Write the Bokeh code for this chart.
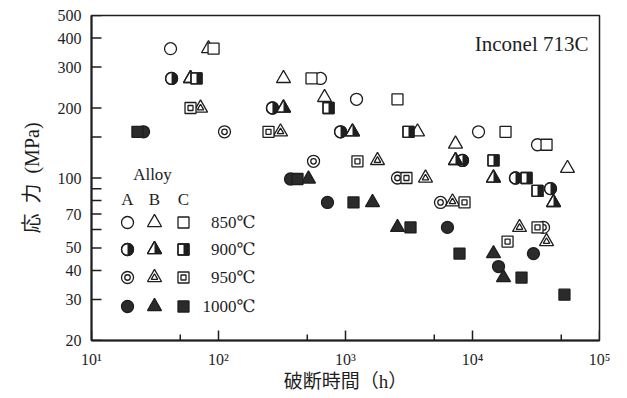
import math
from bokeh.plotting import figure
from bokeh.models import FixedTicker, CustomJSTickFormatter, Label
from bokeh.embed import file_html
from bokeh.resources import INLINE

# ---- data: rupture time (h) and stress (MPa) ----
# Alloy A (circles)
a850_t = [41.9, 635, 1221, 11150, 32500]
a850_s = [360, 268, 218, 158, 139]
a900_t = [42.7, 266, 914, 8340, 21800, 41130]
a900_s = [268, 200, 158, 119, 100, 90]
a950_t = [111.5, 560, 2566, 5600, 36230]
a950_s = [158, 118, 100, 78.5, 61.3]
a1000_t = [25.7, 369, 721, 6350, 30200, 16030]
a1000_s = [158, 99, 78.5, 61.3, 47.3, 41.6]
# Alloy B (triangles)
b850_t = [83.4, 325, 684, 3690, 7350, 55980]
b850_s = [360, 268, 222, 158, 140, 110]
b900_t = [60.2, 325, 1135, 7350, 14630, 43450]
b900_s = [268, 200, 158, 119, 100, 78.5]
b950_t = [72.2, 307.8, 1786, 4265, 6960, 23450, 38280]
b950_s = [200, 158, 119, 100, 79, 61.3, 53.3]
b1000_t = [511, 1632, 2566, 14630, 17540]
b1000_s = [99, 78.5, 61.3, 47.3, 37.3]
# Alloy C (squares)
c850_t = [91.4, 540, 2566, 18200, 38280]
c850_s = [360, 268, 218, 158, 139]
c900_t = [67.1, 735, 3133, 14630, 26620, 32500]
c900_s = [268, 200, 158, 119, 100, 88]
c950_t = [60.2, 247.6, 1242, 3020, 8650, 32500, 18880]
c950_s = [200, 158, 118, 100, 78.5, 61.3, 53.3]
c1000_t = [23.0, 419, 1156, 3250, 7900, 24320, 52970]
c1000_s = [158, 99, 78.5, 61.3, 47.3, 37.3, 31.5]

alloys = ["A", "B", "C"]
temps = ["850℃", "900℃", "950℃", "1000℃"]
x_ticks = [10, 100, 1000, 10000, 100000]
x_minor = [50, 500, 5000, 50000]
y_ticks = [20, 30, 40, 50, 70, 100, 200, 300, 400, 500]
y_minor = [60, 80, 90, 150]
x_title = "破断時間（h）"
y_title = "応\u2002力\u2002(MPa)"
plot_title = "Inconel 713C"

# ---- layout ----
W, H = 625, 396
BL, BT = 91, 15
FW, FH = 508, 325
BR, BB = W - BL - FW, H - BT - FH
XMIN, XMAX, YMIN, YMAX = 10, 100000, 20, 500
PXX = FW / math.log10(XMAX / XMIN)
PXY = FH / math.log10(YMAX / YMIN)

INK = "#1e1e1e"
LW = 1.3
SERIF = "'Liberation Serif', 'DejaVu Serif'"
CJK = "'Liberation Serif', 'Noto Sans CJK JP'"

p = figure(width=W, height=H, x_axis_type="log", y_axis_type="log",
           x_range=(XMIN, XMAX), y_range=(YMIN, YMAX),
           output_backend="svg", toolbar_location=None,
           min_border_left=BL, min_border_right=BR,
           min_border_top=BT, min_border_bottom=BB)
p.background_fill_color = "white"
p.border_fill_color = "white"
p.grid.visible = False
p.outline_line_color = INK
p.outline_line_width = 1.5


def fx(px):
    return XMIN * 10 ** (px / PXX)


def fy(py):
    return YMAX * 10 ** (-py / PXY)


def sx(t, dx):
    return t * 10 ** (dx / PXX)


def sy(s, dy):
    return s * 10 ** (dy / PXY)


SIZES = {"circle": 12, "triangle": 14, "square": 11}


def open_mark(marker, t, s, fill="white"):
    p.scatter(x=t, y=s, marker=marker, size=SIZES[marker], fill_color=fill,
              line_color=INK, line_width=LW)


def half_mark(marker, t, s):
    size = SIZES[marker]
    open_mark(marker, t, s)
    if marker == "circle":
        p.wedge(x=t, y=s, radius=size / 2, radius_units="screen",
                start_angle=-math.pi / 2, end_angle=math.pi / 2,
                fill_color=INK, line_color=None)
    else:
        r = size / 2
        if marker == "square":
            xs = [[ti, sx(ti, r), sx(ti, r), ti] for ti in t]
            ys = [[sy(si, -r), sy(si, -r), sy(si, r), sy(si, r)] for si in s]
        else:
            a = r * math.sqrt(3) / 3
            xs = [[ti, sx(ti, r), ti] for ti in t]
            ys = [[sy(si, -a), sy(si, -a), sy(si, 2 * a)] for si in s]
        p.patches(xs=xs, ys=ys, fill_color=INK, line_color=None)
    p.scatter(x=t, y=s, marker=marker, size=size, fill_color=None,
              line_color=INK, line_width=LW)


def double_mark(marker, t, s):
    open_mark(marker, t, s)
    inner = {"circle": 5.5, "triangle": 6.5, "square": 5}[marker]
    p.scatter(x=t, y=s, marker=marker, size=inner, fill_color=None,
              line_color=INK, line_width=LW)


def filled_mark(marker, t, s):
    open_mark(marker, t, s, fill="#2b2b2b")


styles = [open_mark, half_mark, double_mark, filled_mark]
markers = ["circle", "triangle", "square"]
series = [
    [(a850_t, a850_s), (b850_t, b850_s), (c850_t, c850_s)],
    [(a900_t, a900_s), (b900_t, b900_s), (c900_t, c900_s)],
    [(a950_t, a950_s), (b950_t, b950_s), (c950_t, c950_s)],
    [(a1000_t, a1000_s), (b1000_t, b1000_s), (c1000_t, c1000_s)],
]
for ti, row in enumerate(series):
    for ai, (t, s) in enumerate(row):
        styles[ti](markers[ai], t, s)


# ---- inward ticks drawn from the tick lists ----
def vticks(vals, length):
    p.segment(x0=vals, y0=[YMIN] * len(vals), x1=vals,
              y1=[sy(YMIN, length)] * len(vals), line_color=INK, line_width=1.5)


def hticks(vals, length):
    p.segment(x0=[XMIN] * len(vals), y0=vals, x1=[sx(XMIN, length)] * len(vals),
              y1=vals, line_color=INK, line_width=1.5)


vticks(x_ticks, 10)
vticks(x_minor, 6)
hticks(y_ticks, 10)
hticks(y_minor, 10)

# ---- legend block (frame pixel offsets) ----
col_px = [36, 63, 92]
row_py = [207, 234, 262, 291]
p.add_layout(Label(x=fx(61), y=fy(159), text="Alloy", text_font=SERIF,
                   text_font_size="17px", text_align="center",
                   text_baseline="middle", text_color=INK))
for ai, name in enumerate(alloys):
    p.add_layout(Label(x=fx(col_px[ai]), y=fy(184), text=name, text_font=SERIF,
                       text_font_size="17px", text_align="center",
                       text_baseline="middle", text_color=INK))
for ti, tname in enumerate(temps):
    for ai in range(3):
        styles[ti](markers[ai], [fx(col_px[ai])], [fy(row_py[ti])])
    p.add_layout(Label(x=fx(164), y=fy(row_py[ti]), text=tname, text_font=SERIF,
                       text_font_size="17px", text_align="right",
                       text_baseline="middle", text_color=INK))

p.add_layout(Label(x=fx(497), y=fy(28), text=plot_title, text_font=SERIF,
                   text_font_size="21px", text_align="right",
                   text_baseline="alphabetic", text_color=INK))

# ---- axes ----
p.xaxis.ticker = FixedTicker(ticks=x_ticks, minor_ticks=x_minor)
p.yaxis.ticker = FixedTicker(ticks=y_ticks, minor_ticks=y_minor)
p.xaxis.formatter = CustomJSTickFormatter(code="""
const sup = {'0':'\u2070','1':'\u00b9','2':'\u00b2','3':'\u00b3','4':'\u2074','5':'\u2075','6':'\u2076'};
const e = Math.round(Math.log10(tick));
return '10' + String(e).split('').map(c => sup[c]).join('');
""")
p.yaxis.formatter = CustomJSTickFormatter(code="return String(Math.round(tick));")

for ax in (p.xaxis[0], p.yaxis[0]):
    ax.axis_line_color = INK
    ax.axis_line_width = 2
    ax.major_tick_line_color = None
    ax.minor_tick_line_color = None
    ax.major_tick_out = 0
    ax.major_tick_in = 0
    ax.minor_tick_out = 0
    ax.minor_tick_in = 0
    ax.major_label_text_font = SERIF
    ax.major_label_text_color = INK
    ax.axis_label_text_font = CJK
    ax.axis_label_text_font_style = "normal"
    ax.axis_label_text_color = INK

p.xaxis.major_label_text_font_size = "16px"
p.yaxis.major_label_text_font_size = "16px"
p.xaxis.major_label_standoff = 10
p.yaxis.major_label_standoff = 10
p.xaxis.axis_label = x_title
p.yaxis.axis_label = y_title
p.xaxis.axis_label_text_font_size = "19px"
p.yaxis.axis_label_text_font_size = "20px"
p.xaxis.axis_label_standoff = 0
p.yaxis.axis_label_standoff = 12

open("out.html", "w").write(file_html(p, INLINE))
